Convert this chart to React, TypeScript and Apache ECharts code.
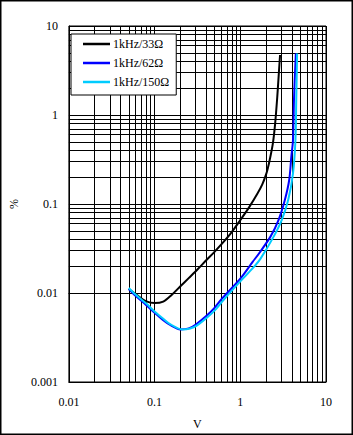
import React, { useEffect, useRef } from "react";
import * as echarts from "echarts";

const seriesNames = ["1kHz/33Ω", "1kHz/62Ω", "1kHz/150Ω"];
const seriesColors = ["#000000", "#0000FF", "#00CCFF"];

const x33 = [0.05, 0.063, 0.079, 0.1, 0.126, 0.158, 0.2, 0.25, 0.32, 0.4, 0.5, 0.63, 0.79, 1.0, 1.26, 1.58, 1.8, 2.0, 2.1, 2.2, 2.4, 2.55, 2.7, 2.82, 2.91];
const y33 = [0.0111, 0.0094, 0.0081, 0.0077, 0.008, 0.0095, 0.0119, 0.0147, 0.0186, 0.0233, 0.029, 0.037, 0.048, 0.066, 0.091, 0.13, 0.165, 0.215, 0.255, 0.31, 0.48, 0.8, 1.6, 3.0, 4.72];

const x62 = [0.05, 0.06, 0.08, 0.1, 0.124, 0.15, 0.2, 0.25, 0.3, 0.4, 0.5, 0.614, 1.0, 1.4, 1.66, 2.25, 2.79, 3.31, 3.72, 3.94, 4.12, 4.23, 4.35, 4.45];
const y62 = [0.0111, 0.0093, 0.0073, 0.006, 0.005, 0.0044, 0.0039, 0.004, 0.0044, 0.0055, 0.0068, 0.0087, 0.0145, 0.0225, 0.028, 0.043, 0.066, 0.111, 0.186, 0.34, 0.524, 1.48, 3.0, 4.93];

const x150 = [0.05, 0.06, 0.08, 0.1, 0.124, 0.15, 0.21, 0.26, 0.31, 0.41, 0.52, 0.64, 1.0, 1.4, 1.73, 2.45, 3.04, 3.62, 4.12, 4.4, 4.5, 4.56, 4.6];
const y150 = [0.0114, 0.0096, 0.0076, 0.0062, 0.0052, 0.0045, 0.0039, 0.004, 0.0043, 0.0053, 0.0066, 0.0084, 0.0135, 0.019, 0.0245, 0.043, 0.066, 0.111, 0.221, 0.524, 1.5, 3.0, 4.9];

const xTickLabels = ["0.01", "0.1", "1", "10"];
const yTickLabels = ["0.001", "0.01", "0.1", "1", "10"];
const minorMultipliers = [2, 3, 4, 5, 6, 7, 8, 9];
const xDecades = [0.01, 0.1, 1];
const yDecades = [0.001, 0.01, 0.1, 1];

const FONT = "'Liberation Serif', 'Times New Roman', serif";

export default function App() {
  const ref = useRef<HTMLDivElement>(null);
  useEffect(() => {
    document.body.style.margin = "0";
    if (!ref.current) return;
    const chart = echarts.init(ref.current, undefined, { renderer: "svg" });
    const pair = (xs: number[], ys: number[]) => xs.map((x, i) => [x, ys[i]]);
    const minorX: number[] = [];
    xDecades.forEach((d) => minorMultipliers.forEach((m) => minorX.push(+(d * m).toPrecision(3))));
    const minorY: number[] = [];
    yDecades.forEach((d) => minorMultipliers.forEach((m) => minorY.push(+(d * m).toPrecision(3))));
    const fmt = (labels: string[]) => (v: number) => {
      const s = String(+Number(v).toPrecision(3));
      return labels.includes(s) ? s : "";
    };
    const datasets = [pair(x33, y33), pair(x62, y62), pair(x150, y150)];
    const txt = { fontFamily: FONT, fontSize: 12, color: "#000" };
    chart.setOption({
      animation: false,
      textStyle: { fontFamily: FONT },
      grid: {
        left: 59.5,
        right: 27,
        top: 26,
        bottom: 53,
        show: true,
        borderColor: "#000",
        borderWidth: 1,
      },
      graphic: [
        {
          type: "rect",
          shape: { x: 0.75, y: 0.75, width: 351.5, height: 433.5 },
          style: { fill: "none", stroke: "#000", lineWidth: 1.5 },
          silent: true,
        },
      ],
      legend: {
        orient: "vertical",
        left: 71,
        top: 34,
        backgroundColor: "#fff",
        borderColor: "#000",
        borderWidth: 1,
        borderRadius: 0,
        padding: [3, 7, 6, 12],
        icon: "rect",
        itemWidth: 27,
        itemHeight: 2.5,
        itemGap: 5,
        textStyle: { ...txt, padding: [0, 0, 0, -2], lineHeight: 14 },
        data: seriesNames,
        selectedMode: false,
      },
      xAxis: {
        type: "log",
        logBase: 10,
        min: 0.01,
        max: 10,
        name: "V",
        nameLocation: "middle",
        nameGap: 36,
        nameTextStyle: txt,
        axisLine: { show: true, lineStyle: { color: "#000", width: 1 } },
        axisTick: { show: false },
        axisLabel: { ...txt, margin: 14, formatter: fmt(xTickLabels) },
        splitLine: { show: true, lineStyle: { color: "#000", width: 1 } },
      },
      yAxis: {
        type: "log",
        logBase: 10,
        min: 0.001,
        max: 10,
        name: "%",
        nameLocation: "middle",
        nameGap: 44,
        nameTextStyle: txt,
        axisLine: { show: true, lineStyle: { color: "#000", width: 1 } },
        axisTick: { show: false },
        axisLabel: { ...txt, margin: 11, formatter: fmt(yTickLabels) },
        splitLine: { show: true, lineStyle: { color: "#000", width: 1 } },
      },
      series: datasets.map((data, i) => ({
        name: seriesNames[i],
        type: "line",
        data,
        symbol: "none",
        showSymbol: false,
        smooth: 0.3,
        z: 3 + i,
        silent: true,
        color: seriesColors[i],
        lineStyle: { color: seriesColors[i], width: 2 },
        markLine:
          i === 0
            ? {
                z: 1,
                silent: true,
                symbol: ["none", "none"],
                label: { show: false },
                emphasis: { disabled: true },
                lineStyle: { color: "#000", width: 1, type: "solid" },
                data: [...minorX.map((v) => ({ xAxis: v })), ...minorY.map((v) => ({ yAxis: v }))],
              }
            : undefined,
      })),
    });
    return () => chart.dispose();
  }, []);
  return <div ref={ref} style={{ width: 353, height: 435 }} />;
}
